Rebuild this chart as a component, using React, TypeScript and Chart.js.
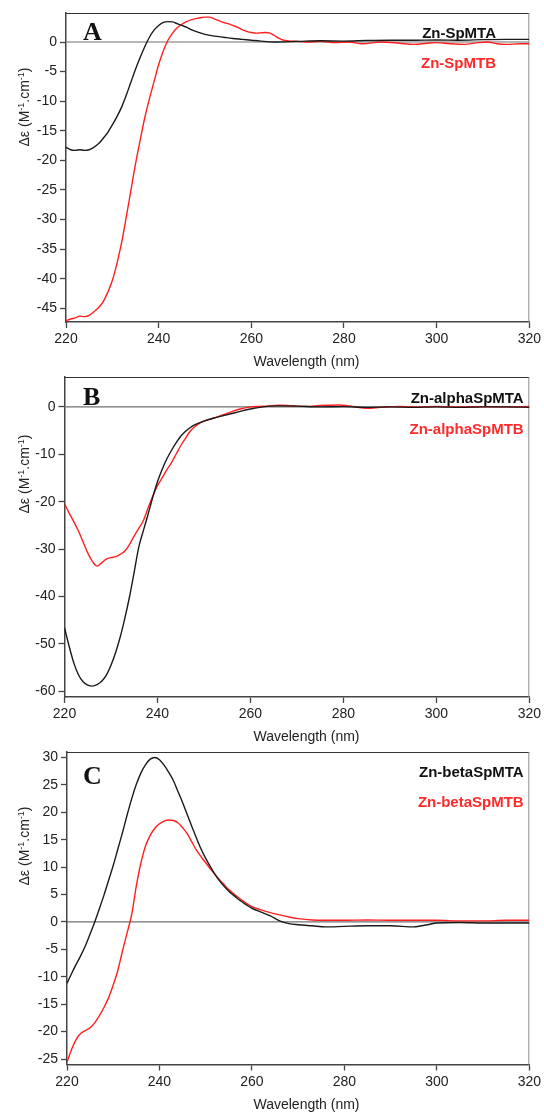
import React, { useEffect, useRef } from 'react';
import { Chart, registerables } from 'chart.js';
Chart.register(...registerables);

// ---------- data ----------
const wavelengthTicks = [220, 240, 260, 280, 300, 320];
const yTicksA = [-45, -40, -35, -30, -25, -20, -15, -10, -5, 0];
const yTicksB = [-60, -50, -40, -30, -20, -10, 0];
const yTicksC = [-25, -20, -15, -10, -5, 0, 5, 10, 15, 20, 25, 30];

// Panel A
const aSpMTA_nm = [220, 221, 222, 223, 224, 225, 226, 227, 228, 229, 230, 231, 232, 233, 234, 235, 236, 237, 238, 239, 240, 241, 242, 243, 244, 245, 246, 247, 248, 250, 252, 254, 256, 258, 260, 262, 265, 270, 275, 280, 285, 290, 295, 300, 305, 310, 315, 320];
const aSpMTA_de = [-17.8, -18.2, -18.3, -18.2, -18.3, -18.2, -17.8, -17.2, -16.3, -15.3, -14.0, -12.6, -11.0, -9.0, -6.8, -4.6, -2.6, -0.8, 0.8, 2.0, 2.8, 3.3, 3.45, 3.4, 3.1, 2.8, 2.5, 2.1, 1.8, 1.3, 1.0, 0.8, 0.6, 0.45, 0.3, 0.15, 0.0, 0.1, 0.2, 0.15, 0.25, 0.3, 0.3, 0.35, 0.3, 0.4, 0.45, 0.45];
const aSpMTB_nm = [220, 221, 222, 223, 224, 225, 226, 227, 228, 229, 230, 231, 232, 233, 234, 235, 236, 237, 238, 239, 240, 241, 242, 243, 244, 245, 246, 247, 248, 249, 250, 251, 252, 253, 254, 255, 256, 257, 258, 259, 260, 261, 262, 263, 264, 265, 266, 267, 268, 270, 272, 275, 278, 281, 284, 288, 292, 295, 298, 300, 303, 306, 309, 311, 313, 315, 318, 320];
const aSpMTB_de = [-47.1, -46.8, -46.6, -46.3, -46.4, -46.2, -45.6, -44.9, -43.9, -42.3, -40.3, -37.4, -33.9, -29.6, -25.1, -20.6, -16.6, -12.8, -9.6, -6.7, -3.8, -1.5, 0.3, 1.5, 2.4, 3.0, 3.45, 3.75, 3.95, 4.1, 4.2, 4.2, 3.9, 3.6, 3.3, 3.1, 2.8, 2.5, 2.1, 1.8, 1.6, 1.5, 1.55, 1.6, 1.5, 1.1, 0.6, 0.3, 0.2, 0.1, 0.0, 0.1, -0.1, 0.0, -0.3, 0.0, -0.2, -0.4, -0.2, -0.1, -0.3, -0.4, -0.1, 0.0, -0.3, -0.4, -0.3, -0.3];

// Panel B
const bAlphaA_nm = [220, 221, 222, 223, 224, 225, 226, 227, 228, 229, 230, 231, 232, 233, 234, 235, 236, 237, 238, 239, 240, 241, 242, 243, 244, 245, 246, 247, 248, 250, 252, 254, 256, 258, 260, 262, 264, 266, 270, 275, 280, 285, 290, 295, 300, 305, 310, 315, 320];
const bAlphaA_de = [-46.6, -50.5, -54.0, -56.5, -58.0, -58.7, -58.9, -58.6, -57.9, -56.6, -54.5, -51.8, -48.5, -44.5, -40.0, -34.8, -29.5, -26.0, -22.6, -19.0, -15.8, -13.2, -11.0, -9.2, -7.6, -6.2, -5.2, -4.4, -3.8, -3.0, -2.4, -1.9, -1.4, -0.9, -0.45, -0.1, 0.15, 0.2, 0.15, 0.0, 0.05, -0.1, 0.0, -0.1, 0.0, -0.1, 0.0, 0.0, -0.1];
const bAlphaB_nm = [220, 221, 222, 223, 224, 225, 226, 227, 228, 229, 230, 231, 232, 233, 234, 235, 236, 237, 238, 239, 240, 241, 242, 243, 244, 245, 246, 247, 248, 249, 250, 252, 254, 256, 258, 260, 262, 264, 266, 268, 270, 272, 275, 279, 282, 285, 288, 292, 296, 300, 305, 310, 315, 320];
const bAlphaB_de = [-20.4, -22.4, -24.2, -26.2, -28.5, -30.8, -32.6, -33.6, -32.9, -32.1, -31.8, -31.6, -31.1, -30.4, -29.0, -27.2, -25.6, -23.9, -21.3, -18.8, -16.6, -15.0, -13.3, -11.8, -10.0, -8.2, -6.7, -5.2, -4.2, -3.5, -3.0, -2.4, -1.7, -1.0, -0.4, 0.0, 0.1, 0.2, 0.35, 0.3, 0.15, 0.1, 0.3, 0.4, 0.1, -0.3, -0.1, 0.1, 0.0, 0.1, 0.0, 0.05, 0.0, 0.1];

// Panel C
const cBetaA_nm = [220, 221, 222, 223, 224, 225, 226, 227, 228, 229, 230, 231, 232, 233, 234, 235, 236, 237, 238, 239, 240, 241, 242, 243, 244, 245, 246, 247, 248, 249, 250, 251, 252, 253, 254, 255, 256, 257, 258, 259, 260, 262, 264, 266, 268, 270, 273, 276, 280, 285, 290, 295, 298, 300, 305, 310, 315, 320];
const cBetaA_de = [-11.2, -9.4, -7.7, -6.1, -4.3, -2.2, 0.0, 2.4, 4.9, 7.6, 10.3, 13.3, 16.3, 19.5, 22.5, 25.1, 27.2, 28.7, 29.7, 30.0, 29.6, 28.6, 27.3, 25.8, 23.8, 21.8, 19.6, 17.4, 15.3, 13.3, 11.6, 10.1, 8.7, 7.5, 6.5, 5.6, 4.9, 4.2, 3.6, 3.0, 2.5, 1.8, 1.1, 0.2, -0.3, -0.5, -0.7, -0.9, -0.8, -0.7, -0.7, -0.9, -0.5, -0.2, -0.1, -0.2, -0.2, -0.2];
const cBetaB_nm = [220, 221, 222, 223, 224, 225, 226, 227, 228, 229, 230, 231, 232, 233, 234, 235, 236, 237, 238, 239, 240, 241, 242, 243, 244, 245, 246, 247, 248, 249, 250, 251, 252, 253, 254, 255, 256, 257, 258, 259, 260, 262, 264, 266, 268, 270, 273, 276, 280, 285, 290, 295, 300, 305, 310, 315, 320];
const cBetaB_de = [-25.6, -23.2, -21.4, -20.3, -19.8, -19.3, -18.4, -17.1, -15.6, -13.8, -11.5, -8.8, -5.3, -2.0, 1.4, 6.6, 10.8, 13.9, 15.8, 17.1, 17.9, 18.4, 18.6, 18.5, 18.1, 17.2, 16.1, 14.6, 13.1, 11.9, 10.8, 9.7, 8.7, 7.7, 6.8, 5.9, 5.2, 4.5, 3.9, 3.3, 2.8, 2.2, 1.7, 1.3, 0.9, 0.6, 0.35, 0.3, 0.3, 0.35, 0.3, 0.3, 0.3, 0.2, 0.2, 0.3, 0.3];

const seriesA = ['Zn-SpMTA', 'Zn-SpMTB'];
const seriesB = ['Zn-alphaSpMTA', 'Zn-alphaSpMTB'];
const seriesC = ['Zn-betaSpMTA', 'Zn-betaSpMTB'];

// ---------- layout / style ----------
const SANS = "'Liberation Sans', Arial, Helvetica, sans-serif";
const SERIF = "'Liberation Serif', 'Times New Roman', serif";
const BLACK = '#1a1a1a';
const RED = '#ff1f1f';

type Panel = {
  letter: string;
  canvasTop: number;
  canvasHeight: number;
  left: number;
  right: number;
  top: number;
  bottom: number;
  yMin: number;
  yMax: number;
  yTicks: number[];
  names: string[];
  xs: number[][];
  ys: number[][];
  letterX: number;
  letterBase: number;
  labelRight: number;
  labelBase: number[];
  yTitleY: number;
};

const PANELS: Panel[] = [
  {
    letter: 'A', canvasTop: 0, canvasHeight: 372,
    left: 66, right: 529.5, top: 13, bottom: 322,
    yMin: -47.3, yMax: 4.9, yTicks: yTicksA,
    names: seriesA, xs: [aSpMTA_nm, aSpMTB_nm], ys: [aSpMTA_de, aSpMTB_de],
    letterX: 83, letterBase: 39.5, labelRight: 496, labelBase: [37.7, 68.3], yTitleY: 107,
  },
  {
    letter: 'B', canvasTop: 362, canvasHeight: 383,
    left: 64.5, right: 530.5, top: 377, bottom: 697,
    yMin: -61.2, yMax: 6.3, yTicks: yTicksB,
    names: seriesB, xs: [bAlphaA_nm, bAlphaB_nm], ys: [bAlphaA_de, bAlphaB_de],
    letterX: 83, letterBase: 405, labelRight: 523.7, labelBase: [402.7, 434], yTitleY: 474,
  },
  {
    letter: 'C', canvasTop: 738, canvasHeight: 375,
    left: 67, right: 530.5, top: 752, bottom: 1064.5,
    yMin: -26, yMax: 31, yTicks: yTicksC,
    names: seriesC, xs: [cBetaA_nm, cBetaB_nm], ys: [cBetaA_de, cBetaB_de],
    letterX: 83, letterBase: 784, labelRight: 523.7, labelBase: [776.7, 806.7], yTitleY: 846,
  },
];

function drawYTitle(ctx: CanvasRenderingContext2D, cx: number, cy: number) {
  const big = `14px ${SANS}`;
  const small = `9px ${SANS}`;
  const parts: [string, string, number][] = [
    ['\u0394\u03b5 (M', big, 0],
    ['-1', small, -5],
    ['.cm', big, 0],
    ['-1', small, -5],
    [')', big, 0],
  ];
  let total = 0;
  const widths = parts.map(([t, f]) => {
    ctx.font = f;
    const w = ctx.measureText(t).width;
    total += w;
    return w;
  });
  ctx.save();
  ctx.translate(cx, cy);
  ctx.rotate(-Math.PI / 2);
  ctx.fillStyle = '#222';
  ctx.textBaseline = 'alphabetic';
  ctx.textAlign = 'left';
  let x = -total / 2;
  parts.forEach(([t, f, dy], i) => {
    ctx.font = f;
    ctx.fillText(t, x, 5 + dy);
    x += widths[i];
  });
  ctx.restore();
}

function makeDecor(p: Panel) {
  const off = p.canvasTop;
  return {
    id: 'decor' + p.letter,
    beforeDatasetsDraw(chart: any) {
      const { ctx, chartArea } = chart;
      const { left, right, top, bottom } = chartArea;
      const y0 = chart.scales.y.getPixelForValue(0);
      ctx.save();
      ctx.lineWidth = 1.2;
      ctx.strokeStyle = '#707070';
      ctx.beginPath();
      ctx.moveTo(left, y0);
      ctx.lineTo(right, y0);
      ctx.stroke();
      ctx.lineWidth = 1.2;
      ctx.strokeStyle = '#333';
      ctx.beginPath();
      ctx.moveTo(left, top + 0.5);
      ctx.lineTo(right, top + 0.5);
      ctx.stroke();
      ctx.lineWidth = 1;
      ctx.strokeStyle = '#8c8c8c';
      ctx.beginPath();
      ctx.moveTo(right - 0.5, top);
      ctx.lineTo(right - 0.5, bottom);
      ctx.stroke();
      ctx.restore();
    },
    afterDraw(chart: any) {
      const { ctx, chartArea } = chart;
      ctx.save();
      // panel letter
      ctx.font = `bold 26px ${SERIF}`;
      ctx.fillStyle = '#111';
      ctx.textAlign = 'left';
      ctx.textBaseline = 'alphabetic';
      ctx.fillText(p.letter, p.letterX, p.letterBase - off);
      // series labels
      ctx.font = `bold 15px ${SANS}`;
      ctx.textAlign = 'right';
      ctx.fillStyle = '#111';
      ctx.fillText(p.names[0], p.labelRight, p.labelBase[0] - off);
      ctx.fillStyle = '#ff2a2a';
      ctx.fillText(p.names[1], p.labelRight, p.labelBase[1] - off);
      // x title
      ctx.font = `14px ${SANS}`;
      ctx.fillStyle = '#222';
      ctx.textAlign = 'center';
      ctx.fillText('Wavelength (nm)', 306.5, chartArea.bottom + 44);
      ctx.restore();
      drawYTitle(ctx, 23.5, p.yTitleY - off);
    },
  };
}

function PanelChart({ p }: { p: Panel }) {
  const ref = useRef<HTMLCanvasElement>(null);
  useEffect(() => {
    if (!ref.current) return;
    const padTop = p.top - p.canvasTop;
    const xHeight = p.canvasTop + p.canvasHeight - p.bottom;
    const tickFont = { family: SANS, size: 14, lineHeight: 1.2 };
    const chart = new Chart(ref.current, {
      type: 'line',
      data: {
        datasets: p.names.map((name, i) => ({
          label: name,
          data: p.xs[i].map((x, k) => ({ x, y: p.ys[i][k] })),
          borderColor: i === 0 ? BLACK : RED,
          borderWidth: 1.4,
          pointRadius: 0,
          fill: false,
          cubicInterpolationMode: 'monotone' as const,
        })),
      },
      options: {
        animation: false,
        responsive: false,
        maintainAspectRatio: false,
        devicePixelRatio: 1,
        layout: { padding: { top: padTop, right: 544 - p.right, left: 0, bottom: 0 } },
        plugins: { legend: { display: false }, tooltip: { enabled: false } },
        scales: {
          x: {
            type: 'linear',
            min: 220,
            max: 320,
            afterFit: (s: any) => { s.height = xHeight; },
            afterBuildTicks: (s: any) => { s.ticks = wavelengthTicks.map((v) => ({ value: v })); },
            ticks: { font: tickFont, color: '#222', padding: 3, maxRotation: 0, autoSkip: false, callback: (v: any) => String(v) },
            grid: { drawOnChartArea: false, drawTicks: true, tickLength: 6, tickColor: '#444', tickWidth: 1.3 },
            border: { color: '#444', width: 1.5 },
          },
          y: {
            type: 'linear',
            min: p.yMin,
            max: p.yMax,
            afterFit: (s: any) => { s.width = p.left; },
            afterBuildTicks: (s: any) => { s.ticks = p.yTicks.map((v) => ({ value: v })); },
            ticks: { font: tickFont, color: '#222', padding: 3, autoSkip: false, callback: (v: any) => String(v) },
            grid: { drawOnChartArea: false, drawTicks: true, tickLength: 6, tickColor: '#444', tickWidth: 1.3 },
            border: { color: '#444', width: 1.5 },
          },
        },
      },
      plugins: [makeDecor(p)],
    } as any);
    return () => chart.destroy();
  }, [p]);
  return (
    <canvas
      ref={ref}
      width={544}
      height={p.canvasHeight}
      style={{ position: 'absolute', left: 0, top: p.canvasTop, width: 544, height: p.canvasHeight, display: 'block' }}
    />
  );
}

export default function App() {
  return (
    <div style={{ position: 'absolute', left: 0, top: 0, width: 544, height: 1113, background: '#fff', overflow: 'hidden' }}>
      {PANELS.map((p) => (
        <PanelChart key={p.letter} p={p} />
      ))}
    </div>
  );
}
